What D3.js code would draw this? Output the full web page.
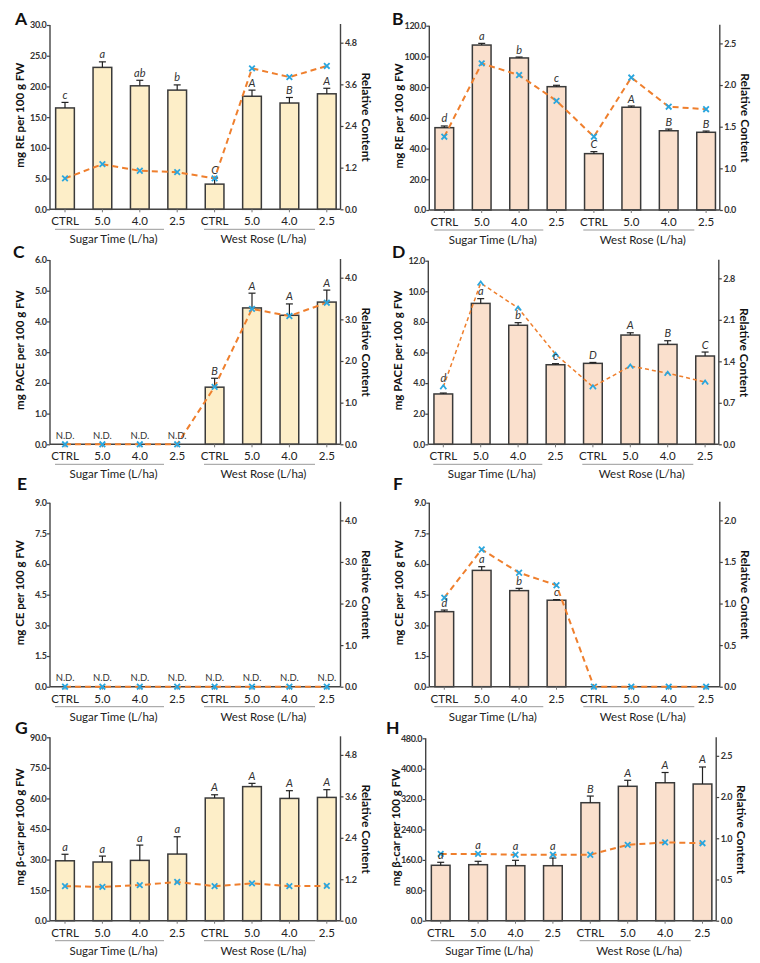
<!DOCTYPE html>
<html><head><meta charset="utf-8">
<script src="https://cdn.jsdelivr.net/npm/d3@7"></script>
<style>body{margin:0;background:#fff}</style>
</head><body><svg id="c" width="760" height="963"></svg>
<script>
// ---------- DATA ----------
const categories = ["CTRL","5.0","4.0","2.5","CTRL","5.0","4.0","2.5"];
const groups = ["Sugar Time (L/ha)","West Rose (L/ha)"];

const aBars = [16.5, 23.1, 20.1, 19.4, 4.1, 18.4, 17.3, 18.8];
const aErr  = [0.9, 0.9, 0.9, 0.85, 1.0, 1.0, 0.9, 0.9];
const aRel  = [0.89, 1.30, 1.11, 1.07, 0.89, 4.06, 3.81, 4.13];
const aSig  = ["c","a","ab","b","C","A","B","A"];
const aLeftTicks  = [0,5,10,15,20,25,30];
const aRightTicks = [0,1.2,2.4,3.6,4.8];

const bBars = [53.6, 107.4, 99.0, 80.3, 36.7, 66.9, 51.6, 50.6];
const bErr  = [1.1, 1.1, 0.6, 0.9, 1.3, 0.8, 1.1, 0.8];
const bRel  = [1.38, 2.26, 2.12, 1.81, 1.38, 2.09, 1.74, 1.71];
const bSig  = ["d","a","b","c","C","A","B","B"];
const bLeftTicks  = [0,20,40,60,80,100,120];
const bRightTicks = [0,1.0,1.5,2.0,2.5];

const cBars = [0,0,0,0,1.86,4.44,4.20,4.63];
const cErr  = [0,0,0,0,0.29,0.48,0.37,0.39];
const cRel  = [0,0,0,0,1.38,3.25,3.08,3.40];
const cSig  = ["N.D.","N.D.","N.D.","N.D.","B","A","A","A"];
const cLeftTicks  = [0,1,2,3,4,5,6];
const cRightTicks = [0,1,2,3,4];

const dBars = [3.29,9.21,7.78,5.20,5.29,7.14,6.53,5.77];
const dErr  = [0.06,0.31,0.17,0.07,0.06,0.15,0.24,0.26];
const dRel  = [0.97,2.72,2.30,1.52,0.97,1.32,1.20,1.05];
const dSig  = ["d","a","b","c","D","A","B","C"];
const dLeftTicks  = [0,2,4,6,8,10,12];
const dRightTicks = [0,0.7,1.4,2.1,2.8];

const eBars = [0,0,0,0,0,0,0,0];
const eErr  = [0,0,0,0,0,0,0,0];
const eRel  = [0,0,0,0,0,0,0,0];
const eSig  = ["N.D.","N.D.","N.D.","N.D.","N.D.","N.D.","N.D.","N.D."];
const eLeftTicks  = [0,1.5,3,4.5,6,7.5,9];
const eRightTicks = [0,1,2,3,4];

const fBars = [3.67,5.69,4.70,4.23,0,0,0,0];
const fErr  = [0.08,0.18,0.11,0.03,0,0,0,0];
const fRel  = [1.07,1.65,1.37,1.22,0,0,0,0];
const fSig  = ["d","a","b","c","","","",""];
const fLeftTicks  = [0,1.5,3,4.5,6,7.5,9];
const fRightTicks = [0,0.5,1.0,1.5,2.0];

const gBars = [29.4,28.8,29.6,32.7,60.2,65.8,60.0,60.5];
const gErr  = [3.2,2.9,7.5,8.5,1.6,1.6,3.8,3.8];
const gRel  = [1.00,0.98,1.03,1.12,1.00,1.08,1.00,1.01];
const gSig  = ["a","a","a","a","A","A","A","A"];
const gLeftTicks  = [0,15,30,45,60,75,90];
const gRightTicks = [0,1.2,2.4,3.6,4.8];

const hBars = [145.8,147.4,144.7,144.7,310.5,353.7,363.0,359.7];
const hErr  = [7.9,8.9,14.2,20.3,17.5,15.8,27,44.8];
const hRel  = [0.81,0.81,0.80,0.80,0.80,0.92,0.95,0.94];
const hSig  = ["a","a","a","a","B","A","A","A"];
const hLeftTicks  = [0,80,160,240,320,400,480];
const hRightTicks = [0,0.5,1.0,2.0,2.5];

// ---------- STYLE ----------
const YELLOW = "#fdeec8", PEACH = "#fae0cd";
const ORANGE = "#ef7f2d", BLUE = "#2aa6de";
const AX = "#444", FONT = "Lato, 'Open Sans', sans-serif";
const STEP = 37.4;

const panels = [
 {id:"A", L:50,    top:25,    bottom:209.3, lx:15,  ly:25,  yl:"mg RE per 100 g FW",   bars:aBars,err:aErr,rel:aRel,sig:aSig,lt:aLeftTicks,rt:aRightTicks,fill:YELLOW,mk:"x"},
 {id:"B", L:429.3, top:25.7,  bottom:210,   lx:392, ly:25,  yl:"mg RE per 100 g FW",   bars:bBars,err:bErr,rel:bRel,sig:bSig,lt:bLeftTicks,rt:bRightTicks,fill:PEACH,mk:"x"},
 {id:"C", L:50,    top:260,   bottom:444.3, lx:13,  ly:258, yl:"mg PACE per 100 g FW", bars:cBars,err:cErr,rel:cRel,sig:cSig,lt:cLeftTicks,rt:cRightTicks,fill:YELLOW,mk:"x"},
 {id:"D", L:428.3, top:260.7, bottom:444.3, lx:392, ly:258, yl:"mg PACE per 100 g FW", bars:dBars,err:dErr,rel:dRel,sig:dSig,lt:dLeftTicks,rt:dRightTicks,fill:PEACH,mk:"caret"},
 {id:"E", L:50,    top:502.7, bottom:686.7, lx:17,  ly:490, yl:"mg CE per 100 g FW",   bars:eBars,err:eErr,rel:eRel,sig:eSig,lt:eLeftTicks,rt:eRightTicks,fill:YELLOW,mk:"x"},
 {id:"F", L:429.3, top:502.7, bottom:686.7, lx:393, ly:490, yl:"mg CE per 100 g FW",   bars:fBars,err:fErr,rel:fRel,sig:fSig,lt:fLeftTicks,rt:fRightTicks,fill:PEACH,mk:"x"},
 {id:"G", L:50,    top:737.3, bottom:920.7, lx:15,  ly:734, yl:"mg β-car per 100 g FW",bars:gBars,err:gErr,rel:gRel,sig:gSig,lt:gLeftTicks,rt:gRightTicks,fill:YELLOW,mk:"x"},
 {id:"H", L:425.7, top:738.3, bottom:920.7, lx:386, ly:734, yl:"mg β-car per 100 g FW",bars:hBars,err:hErr,rel:hRel,sig:hSig,lt:hLeftTicks,rt:hRightTicks,fill:PEACH,mk:"x"}
];

const svg = d3.select("#c");

function drawPanel(p){
  const g = svg.append("g");
  const L = p.L, R = p.L + 290.5;
  const x = d3.scaleBand().domain(d3.range(categories.length))
      .range([L+15-STEP/2, L+15+7.5*STEP]).paddingInner(0.5).paddingOuter(0.25);
  const cx = i => x(i) + x.bandwidth()/2;
  const y = d3.scaleLinear().domain([0, d3.max(p.lt)]).range([p.bottom, p.top]);
  const rs = (p.bottom - p.top)/4.425;
  const yr = d3.scaleLinear().domain(p.rt).range(p.rt.map((d,i)=>p.bottom - i*rs));

  // bars
  g.selectAll("rect.bar").data(p.bars).join("rect")
    .attr("x",(d,i)=>x(i)).attr("width",x.bandwidth())
    .attr("y",d=>y(d)).attr("height",d=>p.bottom-y(d))
    .attr("fill",p.fill).attr("stroke","#3a3a3a").attr("stroke-width",d=>d>0?1.5:0);

  // error bars
  const eb = g.append("g").attr("stroke","#222").attr("stroke-width",1.2);
  p.bars.forEach((d,i)=>{
    if(p.err[i]<=0) return;
    const y0=y(d), y1=y(d+p.err[i]);
    eb.append("line").attr("x1",cx(i)).attr("x2",cx(i)).attr("y1",y0).attr("y2",y1);
    eb.append("line").attr("x1",cx(i)-3.5).attr("x2",cx(i)+3.5).attr("y1",y1).attr("y2",y1);
  });

  // axes
  const ax = g.append("g").attr("transform",`translate(${L},0)`)
    .call(d3.axisLeft(y).tickValues(p.lt).tickFormat(d3.format(".1f")).tickSize(3).tickSizeOuter(0));
  const axr = g.append("g").attr("transform",`translate(${R},0)`)
    .call(d3.axisRight(yr).tickValues(p.rt).tickFormat(d3.format(".1f")).tickSize(3).tickSizeOuter(0));
  [ax,axr].forEach(a=>{
    a.select(".domain").remove();
    a.selectAll("line").attr("stroke",AX).attr("stroke-width",1.2);
    a.selectAll("text").attr("font-family",FONT).attr("font-size",9).attr("font-weight",700)
      .attr("letter-spacing","-0.35").attr("fill","#333");
  });
  ax.selectAll("text").attr("x",-3.5);
  axr.selectAll("text").attr("x",4.5);
  g.append("line").attr("x1",L).attr("x2",L).attr("y1",p.top).attr("y2",p.bottom).attr("stroke",AX).attr("stroke-width",1.4);
  g.append("line").attr("x1",R).attr("x2",R).attr("y1",p.top-1).attr("y2",p.bottom).attr("stroke",AX).attr("stroke-width",1.4);
  g.append("line").attr("x1",L).attr("x2",R).attr("y1",p.bottom).attr("y2",p.bottom).attr("stroke",AX).attr("stroke-width",1.4);
  // category ticks
  categories.forEach((c,i)=>{
    g.append("line").attr("x1",cx(i)).attr("x2",cx(i)).attr("y1",p.bottom).attr("y2",p.bottom+3).attr("stroke","#777").attr("stroke-width",1);
  });

  // line
  const line = d3.line().x((d,i)=>cx(i)).y(d=>yr(d));
  g.append("path").datum(p.rel).attr("d",line).attr("fill","none")
    .attr("stroke",ORANGE).attr("stroke-width",p.mk==="caret"?1.5:2)
    .attr("stroke-dasharray",p.mk==="caret"?"4,3":"6,4");
  // markers
  p.rel.forEach((d,i)=>{
    const px=cx(i), py=yr(d);
    const path = p.mk==="caret" ? `M${px-3},${py+2.5}L${px},${py-1.5}L${px+3},${py+2.5}`
                                : `M${px-2.8},${py-2.8}L${px+2.8},${py+2.8}M${px-2.8},${py+2.8}L${px+2.8},${py-2.8}`;
    g.append("path").attr("d",path).attr("fill","none").attr("stroke",BLUE).attr("stroke-width",1.8);
  });

  // significance letters / N.D.
  p.sig.forEach((s,i)=>{
    if(!s) return;
    if(s==="N.D."){
      g.append("text").attr("x",cx(i)).attr("y",p.bottom-5.5).attr("text-anchor","middle")
       .attr("font-family",FONT).attr("font-size",9.5).attr("fill","#333").text(s);
      return;
    }
    const et = y(p.bars[i]+p.err[i]);
    const my = yr(p.rel[i]);
    const diff = et - my;
    const ty = (diff>0 && diff<8) ? my-5 : et-3.5;
    g.append("text").attr("x",cx(i)).attr("y",ty).attr("text-anchor","middle")
     .attr("font-family",FONT).attr("font-size",11).attr("font-style","italic").attr("fill","#333").text(s);
  });

  // category labels
  categories.forEach((c,i)=>{
    g.append("text").attr("x",cx(i)).attr("y",p.bottom+16).attr("text-anchor","middle")
     .attr("font-family",FONT).attr("font-size",11.5).attr("fill","#222").text(c);
  });
  // group underlines and labels
  const gx = [[L+5,L+114],[L+154,L+265]];
  groups.forEach((gr,k)=>{
    g.append("line").attr("x1",gx[k][0]).attr("x2",gx[k][1]).attr("y1",p.bottom+20).attr("y2",p.bottom+20)
     .attr("stroke","#999").attr("stroke-width",1);
    g.append("text").attr("x",(gx[k][0]+gx[k][1])/2+4).attr("y",p.bottom+34).attr("text-anchor","middle")
     .attr("font-family",FONT).attr("font-size",11.5).attr("fill","#222").text(gr);
  });

  // axis titles
  const mid = (p.top+p.bottom)/2 - 2;
  g.append("text").attr("transform",`translate(${L-26},${mid}) rotate(-90)`).attr("text-anchor","middle")
   .attr("font-family",FONT).attr("font-size",11.5).attr("font-weight",700).attr("fill","#111").text(p.yl);
  g.append("text").attr("transform",`translate(${R+21},${mid+2}) rotate(90)`).attr("text-anchor","middle")
   .attr("font-family",FONT).attr("font-size",12).attr("font-weight",700).attr("fill","#111").text("Relative Content");

  // panel letter
  g.append("text").attr("x",p.lx).attr("y",p.ly).attr("font-family",FONT).attr("font-size",17.5)
   .attr("font-weight",700).attr("fill","#111").text(p.id);
}

panels.forEach(drawPanel);
</script>
</body></html>
